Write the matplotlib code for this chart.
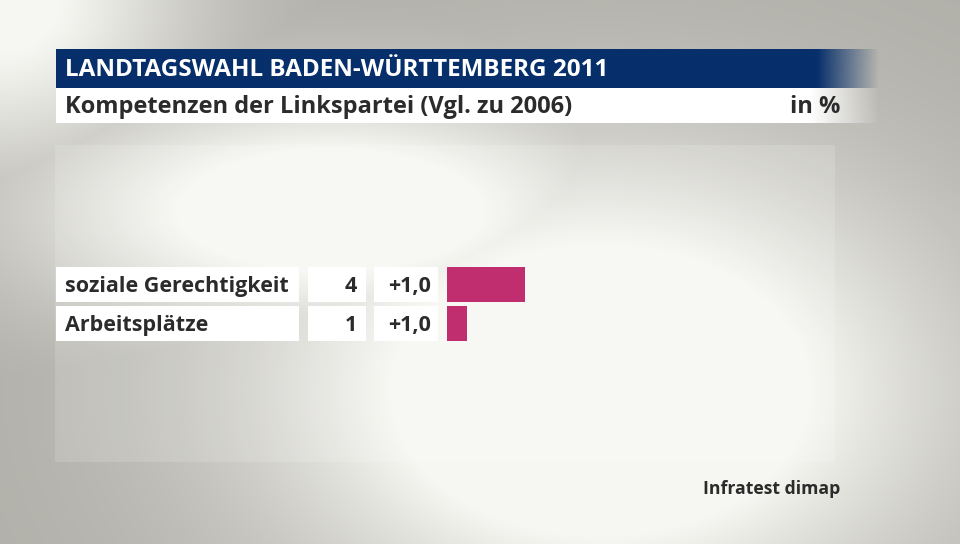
import numpy as np
import matplotlib.pyplot as plt
from matplotlib.patches import Rectangle

# data
categories = ['soziale Gerechtigkeit', 'Arbeitsplätze']
values = [4, 1]
value_labels = ['4', '1']
change_labels = ['+1,0', '+1,0']

title = 'LANDTAGSWAHL BADEN-WÜRTTEMBERG 2011'
subtitle = 'Kompetenzen der Linkspartei (Vgl. zu 2006)'
unit = 'in %'
source = 'Infratest dimap'

W, H = 960, 544
FONT = ['Open Sans', 'DejaVu Sans']
TXT = '#2b2b2b'
BLUE = np.array([0x06, 0x2f, 0x6b]) / 255
BAR = '#c02e70'

fig = plt.figure(figsize=(W / 100, H / 100), dpi=100)
ax = fig.add_axes([0, 0, 1, 1])
ax.set_xlim(0, W)
ax.set_ylim(H, 0)
ax.axis('off')

# background: grey with soft light areas
yy, xx = np.mgrid[0:H, 0:W]
gray = np.array([0xb0, 0xaf, 0xa8]) / 255
light = np.array([0xf6, 0xf6, 0xf2]) / 255
w1 = np.exp(-(((xx - 600) / 330) ** 2 + ((yy - 390) / 230) ** 2)) * 1.5
w2 = np.exp(-(((xx - 0) / 190) ** 2 + ((yy - 0) / 170) ** 2)) * 1.1
w3 = np.exp(-(((xx - 330) / 300) ** 2 + ((yy - 210) / 120) ** 2)) * 1.3
w = np.clip(np.maximum(np.maximum(w1, w2), w3), 0, 1)
bg = gray[None, None, :] * (1 - w[..., None]) + light[None, None, :] * w[..., None]
ax.imshow(bg, extent=(0, W, H, 0), zorder=0, interpolation='bilinear')

# translucent panel
ax.add_patch(Rectangle((55, 145), 780, 317, facecolor='white', alpha=0.15,
                       edgecolor='none', zorder=1))

# header bars fading out to the right
def fade_bar(x0, x1, f0, y0, y1, rgb, z):
    n = 400
    xs = np.linspace(x0, x1, n)
    a = np.clip((x1 - xs) / (x1 - f0), 0, 1)
    img = np.zeros((1, n, 4))
    img[0, :, :3] = rgb
    img[0, :, 3] = a
    ax.imshow(img, extent=(x0, x1, y1, y0), zorder=z, aspect='auto',
              interpolation='bilinear')

fade_bar(56, 880, 818, 49, 88, BLUE, 2)
fade_bar(56, 880, 812, 88, 123, np.array([1.0, 1.0, 1.0]), 2)

ax.text(65, 70, title, color='white', fontsize=17.5, fontweight='bold',
        family=FONT, va='center', ha='left', zorder=3)
ax.text(65, 107, subtitle, color=TXT, fontsize=17, fontweight='bold',
        family=FONT, va='center', ha='left', zorder=3)
ax.text(840, 107, unit, color=TXT, fontsize=17, fontweight='bold',
        family=FONT, va='center', ha='right', zorder=3)

# rows
row_top = [267, 306]
row_h = 35
for i, cat in enumerate(categories):
    y0 = row_top[i]
    yc = y0 + row_h / 2 + 2
    ax.add_patch(Rectangle((56, y0), 243, row_h, facecolor='white', edgecolor='none', zorder=2))
    ax.add_patch(Rectangle((308, y0), 58, row_h, facecolor='white', edgecolor='none', zorder=2))
    ax.add_patch(Rectangle((374, y0), 64, row_h, facecolor='white', edgecolor='none', zorder=2))
    ax.text(65, yc, cat, color=TXT, fontsize=15.5, fontweight='bold', family=FONT,
            va='center', ha='left', zorder=3)
    ax.text(357, yc, value_labels[i], color=TXT, fontsize=15.5, fontweight='bold',
            family=FONT, va='center', ha='right', zorder=3)
    ax.text(431, yc, change_labels[i], color=TXT, fontsize=15.5, fontweight='bold',
            family=FONT, va='center', ha='right', zorder=3)

# bars in their own axes: 19.5 px per unit
bx0, bx1 = 447, 447 + 19.5 * 20
by0, by1 = 267 - 2, 341 + 2
bax = fig.add_axes([bx0 / W, 1 - by1 / H, (bx1 - bx0) / W, (by1 - by0) / H])
bax.set_xlim(0, 20)
bax.set_ylim(len(values) - 0.5, -0.5)
bax.barh(range(len(values)), values, height=35 / 39, color=BAR, left=0)
bax.axis('off')
bax.patch.set_alpha(0)

ax.text(840, 489, source, color=TXT, fontsize=12.7, fontweight='bold', family=FONT,
        va='center', ha='right', zorder=3)

fig.savefig('out.png', dpi=100)
